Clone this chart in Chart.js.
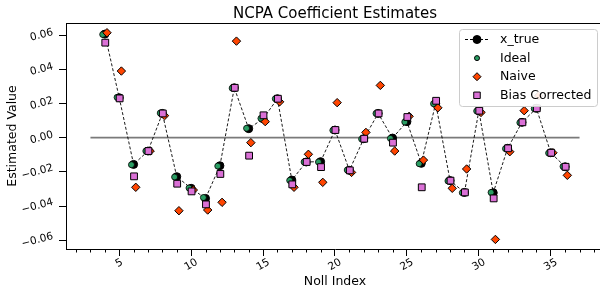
<!DOCTYPE html>
<html>
<head>
<meta charset="utf-8">
<script src="https://cdn.jsdelivr.net/npm/chart.js@4.4.1/dist/chart.umd.min.js"></script>
<style>
  html, body { margin: 0; padding: 0; background: #fff; overflow: hidden; }
  canvas { display: block; }
</style>
</head>
<body>
<canvas id="chart" width="610" height="292"></canvas>
<script>
const FONT = '"DejaVu Sans", sans-serif';

// values
const nollIndex = [4, 5, 6, 7, 8, 9, 10, 11, 12, 13, 14, 15, 16, 17, 18, 19, 20,
  21, 22, 23, 24, 25, 26, 27, 28, 29, 30, 31, 32, 33, 34, 35, 36];
const xTrue = [0.0606, 0.0234, -0.0156, -0.0078, 0.0142, -0.0228, -0.0296, -0.0355, -0.0164,
  0.0292, 0.0053, 0.0111, 0.0228, -0.0248, -0.0142, -0.0140, 0.0045, -0.0191, -0.0006,
  0.0142, -0.0002, 0.0094, -0.0150, 0.0201, -0.0251, -0.0320, 0.0158, -0.0322, -0.0062,
  0.0090, 0.0172, -0.0088, -0.0170];
const ideal = [0.0604, 0.0236, -0.0158, -0.0078, 0.0144, -0.0230, -0.0294, -0.0350, -0.0166,
  0.0290, 0.0055, 0.0113, 0.0228, -0.0250, -0.0142, -0.0142, 0.0043, -0.0189, -0.0008,
  0.0142, -0.0004, 0.0092, -0.0152, 0.0199, -0.0253, -0.0322, 0.0156, -0.0320, -0.0064,
  0.0088, 0.0170, -0.0090, -0.0168];
const naive = [0.0614, 0.0390, -0.0290, -0.0078, 0.0129, -0.0427, -0.0306, -0.0423, -0.0378,
  0.0565, -0.0029, 0.0094, 0.0210, -0.0290, -0.0097, -0.0261, 0.0205, -0.0203, 0.0031,
  0.0306, -0.0078, 0.0125, -0.0131, 0.0175, -0.0296, -0.0183, 0.0148, -0.0595, -0.0082,
  0.0158, 0.0245, -0.0088, -0.0220];
const biasCorrected = [0.0556, 0.0230, -0.0226, -0.0078, 0.0142, -0.0269, -0.0314, -0.0390, -0.0212,
  0.0292, -0.0105, 0.0131, 0.0228, -0.0273, -0.0142, -0.0172, 0.0045, -0.0191, -0.0006,
  0.0142, -0.0029, 0.0121, -0.0290, 0.0216, -0.0251, -0.0320, 0.0158, -0.0355, -0.0062,
  0.0090, 0.0172, -0.0088, -0.0170];
const zeroLineX = [3, 37];
const xTickValues = [5, 10, 15, 20, 25, 30, 35];
const yTickValues = [-0.06, -0.04, -0.02, 0, 0.02, 0.04, 0.06];

const colors = {
  xTrue: '#000000',
  ideal: '#2a9d63',
  naive: '#ff4500',
  bias: '#da70d6',
  zero: '#7a7a7a'
};

function points(ys, shift) {
  return nollIndex.map((n, i) => ({ x: n + shift, y: ys[i] }));
}

function fmtY(v) {
  return v.toFixed(2).replace('-', '\u2212');
}

function drawMarker(ctx, style, x, y, r, fill) {
  ctx.save();
  ctx.fillStyle = fill;
  ctx.strokeStyle = '#000';
  ctx.lineWidth = 1;
  ctx.beginPath();
  if (style === 'circle') {
    ctx.arc(x, y, r, 0, Math.PI * 2);
  } else if (style === 'rectRot') {
    ctx.moveTo(x, y - r); ctx.lineTo(x + r, y); ctx.lineTo(x, y + r); ctx.lineTo(x - r, y);
    ctx.closePath();
  } else {
    const s = r * Math.SQRT1_2;
    ctx.rect(x - s, y - s, 2 * s, 2 * s);
  }
  ctx.fill();
  ctx.stroke();
  ctx.restore();
}

const legendItems = [
  { label: 'x_true', style: 'circle', r: 4, color: colors.xTrue, line: true },
  { label: 'Ideal', style: 'circle', r: 2.5, color: colors.ideal },
  { label: 'Naive', style: 'rectRot', r: 4, color: colors.naive },
  { label: 'Bias Corrected', style: 'rect', r: 4.6, color: colors.bias }
];

const decorations = {
  id: 'decorations',
  afterDraw(chart) {
    const { ctx, chartArea: area, scales: { x, y } } = chart;
    ctx.save();
    ctx.strokeStyle = '#000';
    ctx.lineWidth = 1;

    // top spine
    ctx.beginPath();
    ctx.moveTo(area.left, Math.round(area.top) + 0.5);
    ctx.lineTo(area.right, Math.round(area.top) + 0.5);
    ctx.stroke();

    // minor x ticks
    ctx.beginPath();
    for (let n = Math.ceil(x.min); n <= x.max; n++) {
      if (n % 5 === 0) continue;
      const px = Math.round(x.getPixelForValue(n)) + 0.5;
      ctx.moveTo(px, area.bottom);
      ctx.lineTo(px, area.bottom + 3.5);
    }
    ctx.stroke();

    // rotated tick labels
    ctx.fillStyle = '#000';
    ctx.font = '10.5px ' + FONT;
    ctx.textAlign = 'center';
    ctx.textBaseline = 'middle';
    const h = 8;
    const xr = 30 * Math.PI / 180;
    xTickValues.forEach(v => {
      const t = String(v);
      const w = ctx.measureText(t).width;
      const H = w * Math.sin(xr) + h * Math.cos(xr);
      ctx.save();
      ctx.translate(x.getPixelForValue(v), area.bottom + 9 + H / 2);
      ctx.rotate(-xr);
      ctx.fillText(t, 0, 0);
      ctx.restore();
    });
    const yr = 15 * Math.PI / 180;
    yTickValues.forEach(v => {
      const t = fmtY(v);
      const w = ctx.measureText(t).width;
      const W = w * Math.cos(yr) + h * Math.sin(yr);
      ctx.save();
      ctx.translate(area.left - 12 - W / 2, y.getPixelForValue(v));
      ctx.rotate(-yr);
      ctx.fillText(t, 0, 0);
      ctx.restore();
    });

    // title
    ctx.font = '15px ' + FONT;
    ctx.fillText('NCPA Coefficient Estimates', (area.left + area.right) / 2, 14.5);

    // legend
    const lx = 459, ly = 29, lw = 138, lh = 77;
    ctx.beginPath();
    ctx.roundRect(lx + 0.5, ly + 0.5, lw, lh, 3);
    ctx.fillStyle = 'rgba(255,255,255,0.9)';
    ctx.fill();
    ctx.strokeStyle = '#cccccc';
    ctx.stroke();
    ctx.font = '12.5px ' + FONT;
    ctx.textAlign = 'left';
    legendItems.forEach((item, i) => {
      const ry = 39.5 + i * 18.6;
      if (item.line) {
        ctx.save();
        ctx.strokeStyle = '#000';
        ctx.lineWidth = 1;
        ctx.setLineDash([3, 2]);
        ctx.beginPath();
        ctx.moveTo(465, ry);
        ctx.lineTo(489, ry);
        ctx.stroke();
        ctx.restore();
      }
      drawMarker(ctx, item.style, 477, ry, item.r, item.color);
      ctx.fillStyle = '#000';
      ctx.fillText(item.label, 500, ry + 0.5);
    });
    ctx.restore();
  }
};

new Chart(document.getElementById('chart'), {
  type: 'scatter',
  data: {
    datasets: [
      {
        label: 'zero',
        data: zeroLineX.map(v => ({ x: v, y: 0 })),
        showLine: true,
        borderColor: colors.zero,
        borderWidth: 1.7,
        pointRadius: 0,
        order: 5
      },
      {
        label: 'x_true',
        data: points(xTrue, 0),
        showLine: true,
        borderColor: colors.xTrue,
        borderWidth: 0.9,
        borderDash: [3, 2],
        backgroundColor: colors.xTrue,
        pointBackgroundColor: colors.xTrue,
        pointBorderColor: colors.xTrue,
        pointRadius: 4,
        pointBorderWidth: 1,
        order: 4
      },
      {
        label: 'Ideal',
        data: points(ideal, -0.15),
        pointStyle: 'circle',
        pointBackgroundColor: colors.ideal,
        pointBorderColor: '#000',
        pointBorderWidth: 0.8,
        pointRadius: 3,
        order: 3
      },
      {
        label: 'Naive',
        data: points(naive, 0.15),
        pointStyle: 'rectRot',
        pointBackgroundColor: colors.naive,
        pointBorderColor: '#000',
        pointBorderWidth: 1,
        pointRadius: 4.2,
        order: 2
      },
      {
        label: 'Bias Corrected',
        data: points(biasCorrected, 0.03),
        pointStyle: 'rect',
        pointBackgroundColor: colors.bias,
        pointBorderColor: '#000',
        pointBorderWidth: 1,
        pointRadius: 4.8,
        order: 1
      }
    ]
  },
  options: {
    responsive: false,
    animation: false,
    events: [],
    layout: { padding: { top: 23, right: 6, left: 0, bottom: 0 } },
    scales: {
      x: {
        type: 'linear',
        min: 1.3,
        max: 38.7,
        afterBuildTicks: s => { s.ticks = xTickValues.map(v => ({ value: v })); },
        afterFit: s => { s.height = 43; },
        ticks: { display: false },
        grid: { drawOnChartArea: false, tickLength: 7, color: '#000', tickWidth: 1 },
        border: { display: true, color: '#000', width: 1 },
        title: {
          display: true,
          text: 'Noll Index',
          color: '#000',
          font: { family: FONT, size: 12.5 },
          padding: { top: 0, bottom: 2.5 }
        }
      },
      y: {
        type: 'linear',
        min: -0.0651,
        max: 0.0671,
        afterBuildTicks: s => { s.ticks = yTickValues.map(v => ({ value: v })); },
        afterFit: s => { s.width = 66; },
        ticks: { display: false },
        grid: { drawOnChartArea: false, tickLength: 7, color: '#000', tickWidth: 1 },
        border: { display: true, color: '#000', width: 1 },
        title: {
          display: true,
          text: 'Estimated Value',
          color: '#000',
          font: { family: FONT, size: 12.5 },
          padding: { top: 5, bottom: 0 }
        }
      }
    },
    plugins: {
      legend: { display: false },
      tooltip: { enabled: false },
      title: { display: false }
    }
  },
  plugins: [decorations]
});
</script>
</body>
</html>
